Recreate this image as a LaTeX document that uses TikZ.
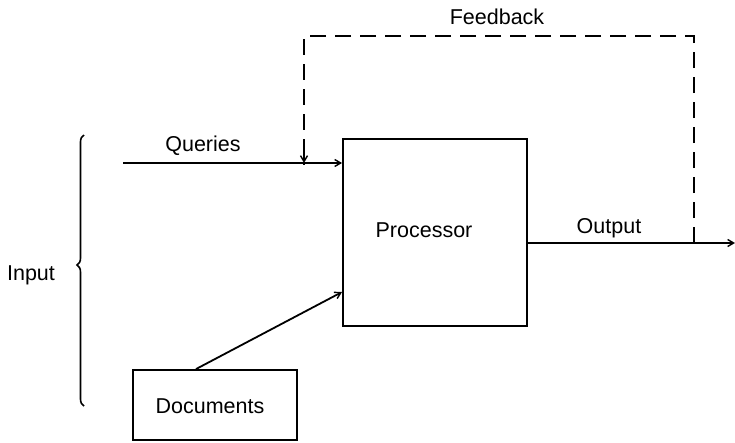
\documentclass[tikz,border=0pt]{standalone}
\usepackage{fontspec}
\setmainfont{Liberation Sans}
\usetikzlibrary{arrows.meta,decorations.pathreplacing,calc}
\begin{document}
\begin{tikzpicture}[x=1pt,y=1pt,
  every node/.style={font=\fontsize{21.5}{25}\selectfont},
  boxnode/.style={draw,line width=1.9pt,rectangle,inner sep=0pt},
  link/.style={line width=1.8pt},
  arrowlink/.style={link,-{Straight Barb[length=6pt,width=7pt,line width=1.4pt]}},
  fbline/.style={link,dash pattern=on 16pt off 9pt},
  lbl/.style={inner sep=0pt}]
  \useasboundingbox (0,0) rectangle (735,-442);

  % main blocks
  \node[boxnode,minimum width=184pt,minimum height=187pt] (proc) at (435,-232.5) {};
  \node[lbl] (proctext) at (424,-230) {Processor};
  \node[boxnode,minimum width=164pt,minimum height=70pt] (docs) at (215,-405) {};
  \node[lbl] (docstext) at (210,-406) {Documents};

  % labels
  \node[lbl] (qlabel) at (203,-146) {Queries};
  \node[lbl] (olabel) at (609,-228) {Output};
  \node[lbl] (flabel) at (497,-17) {Feedback};
  \node[lbl] (ilabel) at (31,-275) {Input};

  % connector end points
  \coordinate (qstart) at (123,-163);
  \coordinate (outend) at (735,-243);
  \coordinate (fbtap) at (694,-243);
  \coordinate (fbdrop) at (304,-163);

  % queries into the processor
  \draw[arrowlink] (qstart) -- (qstart -| proc.west);
  % documents into the processor
  \draw[arrowlink] ([xshift=-19pt]docs.north) -- ([yshift=-59.5pt]proc.west);
  % output
  \draw[arrowlink] (proc.east |- outend) -- (outend);
  % feedback loop
  \draw[fbline] (fbtap) -- (fbtap |- 0,-36) -- (fbdrop |- 0,-36) -- ($(fbdrop)+(0,-2)$);
  \draw[arrowlink] ($(fbdrop)+(0,12)$) -- (fbdrop);

  % input brace
  \draw[line width=1.6pt,decorate,decoration={brace,amplitude=7pt,aspect=0.52}]
    (84,-406) -- (84,-135);
\end{tikzpicture}
\end{document}
